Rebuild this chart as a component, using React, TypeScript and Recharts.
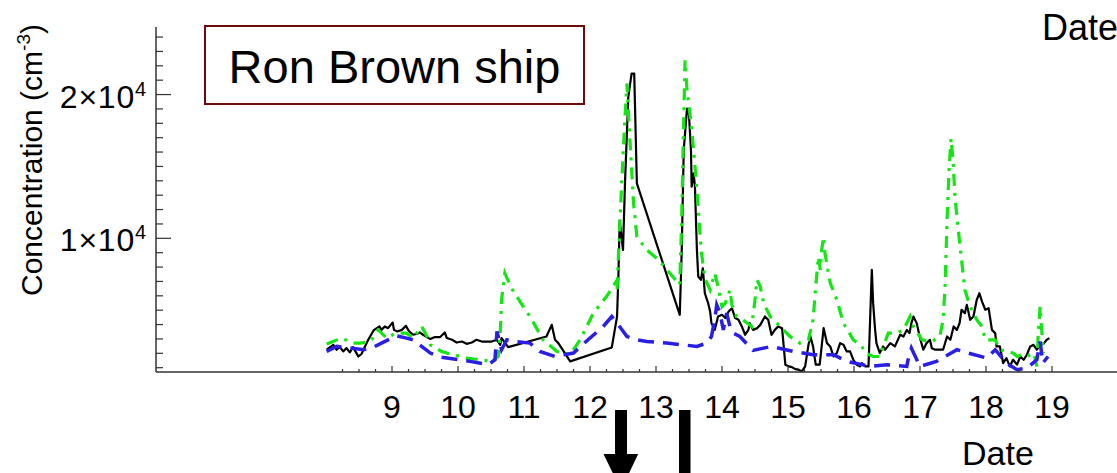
import React from 'react';
import { LineChart, Line, XAxis, YAxis } from 'recharts';

const FONT = "'Liberation Sans', Arial, Helvetica, sans-serif";

// Black solid series (date, concentration cm^-3)
const blackDays = [8.01, 8.11, 8.16, 8.21, 8.26, 8.31, 8.36, 8.41, 8.49, 8.54, 8.59, 8.64, 8.72, 8.77, 8.81, 8.84, 8.89, 8.94, 8.98, 9.01, 9.03, 9.08, 9.15, 9.21, 9.26, 9.32, 9.38, 9.42, 9.47, 9.58, 9.65, 9.73, 9.80, 9.83, 9.91, 9.98, 10.06, 10.13, 10.21, 10.28, 10.36, 10.44, 10.51, 10.59, 10.64, 10.66, 10.71, 10.76, 11.34, 11.42, 11.47, 11.52, 11.70, 12.33, 12.41, 12.43, 12.45, 12.50, 12.53, 12.58, 12.63, 12.67, 12.71, 13.36, 13.39, 13.42, 13.47, 13.50, 13.53, 13.54, 13.57, 13.59, 13.62, 13.64, 13.68, 13.71, 13.74, 13.79, 13.82, 13.84, 13.89, 13.94, 14.00, 14.05, 14.10, 14.15, 14.20, 14.25, 14.30, 14.35, 14.40, 14.42, 14.47, 14.53, 14.58, 14.65, 14.70, 14.75, 14.80, 14.85, 14.91, 14.96, 15.01, 15.06, 15.11, 15.16, 15.21, 15.26, 15.31, 15.34, 15.38, 15.42, 15.48, 15.54, 15.59, 15.64, 15.69, 15.74, 15.79, 15.84, 15.89, 15.94, 15.99, 16.04, 16.09, 16.12, 16.17, 16.22, 16.27, 16.29, 16.32, 16.34, 16.39, 16.44, 16.47, 16.55, 16.62, 16.70, 16.75, 16.80, 16.84, 16.87, 16.90, 16.95, 17.00, 17.05, 17.10, 17.15, 17.18, 17.23, 17.35, 17.41, 17.46, 17.51, 17.56, 17.60, 17.63, 17.68, 17.71, 17.76, 17.81, 17.86, 17.90, 17.94, 17.99, 18.04, 18.09, 18.14, 18.16, 18.21, 18.26, 18.31, 18.36, 18.41, 18.47, 18.52, 18.57, 18.62, 18.67, 18.72, 18.77, 18.82, 18.87, 18.92, 18.96];
const blackConc = [2250, 2590, 2250, 2430, 2130, 2360, 2060, 2430, 1780, 1970, 2480, 2940, 3590, 3750, 3870, 3630, 3870, 3750, 3980, 4140, 3630, 3520, 3630, 3910, 3520, 3290, 3360, 3450, 3290, 2990, 3130, 3130, 3450, 3060, 2940, 2750, 2820, 2660, 2750, 2940, 2820, 2820, 2820, 2940, 2590, 3060, 2750, 2430, 3170, 3980, 2940, 2710, 1440, 2410, 4560, 7340, 11220, 9190, 13820, 19840, 21460, 21460, 13820, 4680, 9190, 16130, 19030, 18560, 16130, 13590, 14510, 13590, 9190, 7340, 7110, 7920, 6180, 5490, 4910, 4100, 3630, 4560, 4680, 4450, 4910, 5140, 4450, 4330, 3870, 3290, 3630, 4100, 3630, 3750, 3980, 4560, 4330, 3290, 3630, 3870, 3750, 1210, 1090, 1040, 900, 860, 740, 1090, 2590, 3170, 2480, 1210, 1210, 3750, 2710, 2480, 1780, 2020, 2710, 2590, 2130, 2130, 1550, 1210, 1090, 1320, 1090, 1090, 7800, 5490, 3630, 2710, 2020, 2480, 2250, 2710, 2480, 3290, 3170, 3630, 3400, 4100, 4560, 4100, 3060, 2250, 2710, 2940, 2360, 2250, 2250, 3170, 2940, 3870, 3630, 4100, 5030, 4790, 5370, 4330, 4560, 5720, 6180, 5600, 5030, 5140, 3630, 3400, 2480, 2480, 1320, 1670, 1090, 1550, 1210, 1780, 1550, 1900, 2480, 2590, 2250, 2590, 2660, 2940, 3060];

// Green dash-dot series
const greenDays = [8.01, 8.24, 8.41, 8.52, 8.67, 8.79, 8.92, 9.05, 9.22, 9.32, 9.45, 9.53, 9.58, 9.75, 9.93, 10.13, 10.33, 10.51, 10.61, 10.64, 10.66, 10.71, 10.81, 10.94, 11.09, 11.29, 11.50, 11.70, 11.85, 12.05, 12.25, 12.38, 12.41, 12.43, 12.48, 12.53, 12.56, 12.58, 12.66, 12.71, 12.86, 13.04, 13.21, 13.36, 13.39, 13.41, 13.44, 13.47, 13.52, 13.57, 13.62, 13.67, 13.69, 13.74, 13.82, 13.89, 13.94, 14.00, 14.05, 14.12, 14.15, 14.22, 14.32, 14.45, 14.50, 14.53, 14.58, 14.63, 14.73, 14.83, 14.88, 15.03, 15.18, 15.31, 15.38, 15.42, 15.46, 15.49, 15.51, 15.54, 15.56, 15.64, 15.74, 15.84, 15.99, 16.12, 16.17, 16.29, 16.39, 16.50, 16.52, 16.65, 16.75, 16.85, 16.90, 17.03, 17.18, 17.30, 17.35, 17.38, 17.41, 17.44, 17.47, 17.50, 17.53, 17.58, 17.63, 17.68, 17.76, 17.86, 17.94, 17.99, 18.14, 18.21, 18.31, 18.41, 18.47, 18.54, 18.62, 18.72, 18.77, 18.79, 18.82, 18.84, 18.87];
const greenConc = [2650, 3060, 2710, 2710, 2820, 3630, 3060, 3400, 3400, 3060, 3870, 3170, 2590, 2130, 1900, 1670, 1550, 1440, 1780, 3400, 5720, 7570, 6530, 5600, 4560, 2940, 2130, 1900, 2940, 4790, 5950, 6880, 6410, 8720, 13820, 18450, 20770, 18910, 12430, 10110, 9190, 8500, 7570, 6760, 11500, 16130, 22380, 20300, 18450, 16130, 13360, 10110, 8960, 7220, 6410, 7570, 6640, 5250, 5490, 6410, 5370, 4560, 4330, 3870, 5720, 7110, 6640, 5490, 4560, 4100, 3870, 3170, 2710, 2940, 4330, 6640, 8720, 7800, 9190, 10110, 8960, 6880, 5720, 4100, 2940, 2480, 2020, 1780, 1780, 3170, 3400, 3400, 3630, 4560, 3870, 2940, 2820, 3170, 4330, 6640, 11270, 14740, 16940, 15440, 12890, 10580, 8500, 6410, 5250, 4330, 3870, 2940, 2940, 2250, 2130, 2020, 1780, 1900, 1780, 2020, 1090, 3170, 5250, 3870, 2020];

// Blue dashed series
const blueDays = [8.01, 8.16, 8.57, 8.72, 8.84, 9.07, 9.22, 9.32, 9.58, 9.73, 9.83, 10.18, 10.46, 10.56, 10.59, 10.66, 10.74, 10.86, 11.09, 11.24, 11.47, 11.75, 11.97, 12.20, 12.33, 12.41, 12.56, 12.71, 12.86, 13.16, 13.41, 13.62, 13.77, 13.84, 13.89, 13.92, 13.97, 14.02, 14.07, 14.12, 14.17, 14.27, 14.47, 14.75, 15.08, 15.38, 15.69, 15.89, 16.24, 16.50, 16.80, 16.82, 16.87, 17.00, 17.25, 17.56, 17.73, 18.01, 18.14, 18.31, 18.47, 18.62, 18.77, 18.82, 18.86, 18.94];
const blueConc = [2130, 2480, 2250, 2430, 2710, 3220, 3060, 2940, 2020, 1740, 1670, 1440, 1210, 1550, 3520, 2250, 2940, 2820, 2710, 2130, 1780, 2020, 2940, 3870, 4560, 4100, 3170, 2940, 2820, 2710, 2590, 2480, 2710, 3170, 4330, 5370, 4790, 3630, 4790, 3870, 3400, 3170, 2200, 2480, 2130, 1900, 1900, 1440, 1090, 1210, 1090, 1550, 2360, 1090, 1440, 2250, 2020, 1670, 2250, 1320, 860, 970, 1550, 2820, 1320, 1780];

const xTicks = [8.25, 8.5, 8.75, 9, 9.25, 9.5, 9.75, 10, 10.25, 10.5, 10.75, 11, 11.25, 11.5, 11.75, 12, 12.25, 12.5, 12.75, 13, 13.25, 13.5, 13.75, 14, 14.25, 14.5, 14.75, 15, 15.25, 15.5, 15.75, 16, 16.25, 16.5, 16.75, 17, 17.25, 17.5, 17.75, 18, 18.25, 18.5, 18.75, 19];
const yTicks = [1000, 2000, 3000, 4000, 5000, 6000, 7000, 8000, 9000, 10000, 11000, 12000, 13000, 14000, 15000, 16000, 17000, 18000, 19000, 20000, 21000, 22000, 23000, 24000];
const xDomain = [5.424, 19.985];
const yDomain = [700, 24700];

const blackData = blackDays.map((d, i) => ({ d, c: blackConc[i] }));
const greenData = greenDays.map((d, i) => ({ d, c: greenConc[i] }));
const blueData = blueDays.map((d, i) => ({ d, c: blueConc[i] }));

const AXIS = '#333';

const XTick = (props: any) => {
  const { x, y, payload } = props;
  const v = payload.value;
  const major = Math.abs(v - Math.round(v)) < 1e-6;
  return (
    <g>
      <line x1={x} x2={x} y1={y} y2={y - (major ? 6 : 3)} stroke={AXIS} strokeWidth={1.2} />
      {major && (
        <text x={x} y={y + 46} textAnchor="middle" fontSize={32} fontFamily={FONT} fill="#000">
          {v}
        </text>
      )}
    </g>
  );
};

const YTick = (props: any) => {
  const { x, y, payload } = props;
  const v = payload.value;
  const major = v % 10000 === 0;
  return (
    <g>
      <line x1={x} x2={x + (major ? 15 : 7)} y1={y} y2={y} stroke={AXIS} strokeWidth={1.2} />
      {major && (
        <text x={x - 9} y={y + 13} textAnchor="end" fontSize={32} fontFamily={FONT} fill="#000" letterSpacing={0.8}>
          {v / 10000}×10<tspan fontSize={20} dy={-12}>4</tspan>
        </text>
      )}
    </g>
  );
};

export default function App() {
  return (
    <div style={{ position: 'absolute', left: 0, top: 0, width: 1117, height: 473, background: '#fff', overflow: 'hidden' }}>
      <LineChart width={1117} height={473} margin={{ top: 27, right: 0, bottom: 100, left: 155 }}>
        <XAxis
          dataKey="d"
          type="number"
          domain={xDomain}
          ticks={xTicks}
          interval={0}
          allowDataOverflow
          height={1}
          tickSize={0}
          tickMargin={0}
          tickLine={false}
          axisLine={{ stroke: AXIS, strokeWidth: 1.5 }}
          tick={<XTick />}
        />
        <YAxis
          dataKey="c"
          type="number"
          domain={yDomain}
          ticks={yTicks}
          interval={0}
          allowDataOverflow
          width={1}
          tickSize={0}
          tickMargin={0}
          tickLine={false}
          axisLine={{ stroke: AXIS, strokeWidth: 1.5 }}
          tick={<YTick />}
        />
        <Line data={blackData} dataKey="c" type="linear" stroke="#000" strokeWidth={2.2} dot={false} strokeLinejoin="round" isAnimationActive={false} />
        <Line data={greenData} dataKey="c" type="linear" stroke="#14e614" strokeWidth={3.2} strokeDasharray="12 7 3 7" dot={false} isAnimationActive={false} />
        <Line data={blueData} dataKey="c" type="linear" stroke="#2a1ee6" strokeWidth={3.5} strokeDasharray="16 9" dot={false} isAnimationActive={false} />
      </LineChart>
      <svg width={1117} height={473} style={{ position: 'absolute', left: 0, top: 0, pointerEvents: 'none' }}>
        <rect x={205} y={26} width={379} height={78} fill="#fff" stroke="#6e0a0a" strokeWidth={2} />
        <text x={394.5} y={83} textAnchor="middle" fontSize={47} fontFamily={FONT} fill="#000">Ron Brown ship</text>
        <text x={1042} y={40} fontSize={36} fontFamily={FONT} fill="#000">Date</text>
        <text x={962} y={465} fontSize={34} fontFamily={FONT} fill="#000">Date</text>
        <text transform="translate(42,160) rotate(-90)" textAnchor="middle" fontSize={30} fontFamily={FONT} fill="#000">
          Concentration (cm<tspan fontSize={19} dy={-12}>-3</tspan><tspan dy={12}>)</tspan>
        </text>
        <rect x={615} y={410} width={12} height={45} fill="#000" />
        <polygon points="603.5,454 638.2,454 621,490" fill="#000" />
        <rect x={679} y={410} width={11.5} height={70} fill="#000" />
      </svg>
    </div>
  );
}
